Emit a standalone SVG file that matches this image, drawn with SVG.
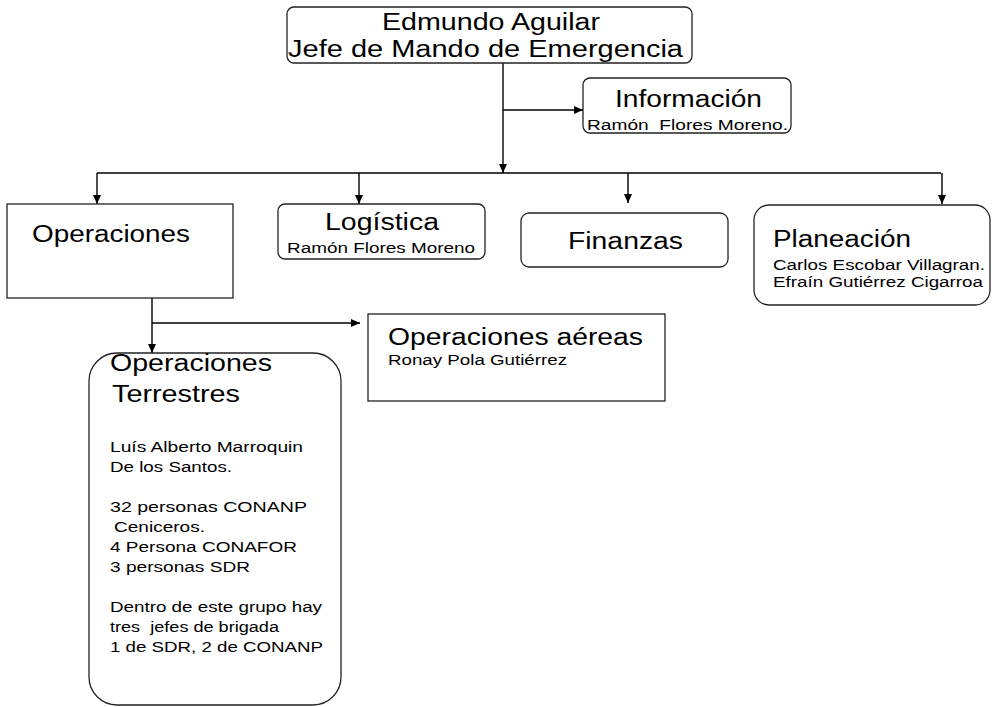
<svg xmlns="http://www.w3.org/2000/svg" width="992" height="707" viewBox="0 0 992 707">
<style>
text{font-family:"Liberation Sans",Arial,sans-serif;fill:#000;white-space:pre}
.big{font-size:23.5px}
.sm{font-size:15.5px}
.box{fill:#fff;stroke:#222;stroke-width:1.3}
.ln{fill:none;stroke:#000;stroke-width:1.4}
</style>
<defs>
<marker id="ah" markerUnits="userSpaceOnUse" markerWidth="10" markerHeight="9" refX="9" refY="4" orient="auto">
<path d="M0,0 L9,4 L0,8 z" fill="#000"/>
</marker>
</defs>
<rect width="992" height="707" fill="#fff"/>
<g id="connectors">
<path class="ln" d="M503,63 V173" marker-end="url(#ah)"/>
<path class="ln" d="M503,110 H583" marker-end="url(#ah)"/>
<path class="ln" d="M97,173 H941"/>
<path class="ln" d="M97,173 V204" marker-end="url(#ah)"/>
<path class="ln" d="M359,173 V204" marker-end="url(#ah)"/>
<path class="ln" d="M628,173 V203" marker-end="url(#ah)"/>
<path class="ln" d="M942,173 V204" marker-end="url(#ah)"/>
<path class="ln" d="M152,298 V353" marker-end="url(#ah)"/>
<path class="ln" d="M152,323 H360" marker-end="url(#ah)"/>
</g>
<g id="jefe">
<rect class="box" x="287" y="7" width="405" height="56" rx="7"/>
<text class="big" x="382" y="30" textLength="218" lengthAdjust="spacingAndGlyphs">Edmundo Aguilar</text>
<text class="big" x="288" y="57" textLength="395" lengthAdjust="spacingAndGlyphs">Jefe de Mando de Emergencia</text>
</g>
<g id="informacion">
<rect class="box" x="583" y="78" width="208" height="55" rx="7"/>
<text class="big" x="615" y="107" textLength="147" lengthAdjust="spacingAndGlyphs">Información</text>
<text class="sm" x="587" y="130" textLength="201" lengthAdjust="spacingAndGlyphs">Ramón  Flores Moreno.</text>
</g>
<g id="operaciones">
<rect class="box" x="7" y="204" width="226" height="94"/>
<text class="big" x="32" y="242" textLength="158" lengthAdjust="spacingAndGlyphs">Operaciones</text>
</g>
<g id="logistica">
<rect class="box" x="278" y="204" width="207" height="55" rx="7"/>
<text class="big" x="325" y="230" textLength="114" lengthAdjust="spacingAndGlyphs">Logística</text>
<text class="sm" x="287" y="253" textLength="188" lengthAdjust="spacingAndGlyphs">Ramón Flores Moreno</text>
</g>
<g id="finanzas">
<rect class="box" x="521" y="213" width="207" height="54" rx="8"/>
<text class="big" x="568" y="249" textLength="115" lengthAdjust="spacingAndGlyphs">Finanzas</text>
</g>
<g id="planeacion">
<rect class="box" x="754" y="205" width="236" height="100" rx="15"/>
<text class="big" x="773" y="247" textLength="138" lengthAdjust="spacingAndGlyphs">Planeación</text>
<text class="sm" x="773" y="270" textLength="212" lengthAdjust="spacingAndGlyphs">Carlos Escobar Villagran.</text>
<text class="sm" x="773" y="287" textLength="210" lengthAdjust="spacingAndGlyphs">Efraín Gutiérrez Cigarroa</text>
</g>
<g id="operaciones-aereas">
<rect class="box" x="368" y="314" width="297" height="87"/>
<text class="big" x="388" y="345" textLength="255" lengthAdjust="spacingAndGlyphs">Operaciones aéreas</text>
<text class="sm" x="388" y="365" textLength="179" lengthAdjust="spacingAndGlyphs">Ronay Pola Gutiérrez</text>
</g>
<g id="operaciones-terrestres">
<rect class="box" x="89" y="353" width="252" height="352" rx="28"/>
<text class="big" x="110" y="371" textLength="162" lengthAdjust="spacingAndGlyphs">Operaciones</text>
<text class="big" x="112" y="402" textLength="128" lengthAdjust="spacingAndGlyphs">Terrestres</text>
<text class="sm" x="110" y="452" textLength="193" lengthAdjust="spacingAndGlyphs">Luís Alberto Marroquin</text>
<text class="sm" x="110" y="472" textLength="122" lengthAdjust="spacingAndGlyphs">De los Santos.</text>
<text class="sm" x="110" y="512" textLength="197" lengthAdjust="spacingAndGlyphs">32 personas CONANP</text>
<text class="sm" x="114" y="532" textLength="91" lengthAdjust="spacingAndGlyphs">Ceniceros.</text>
<text class="sm" x="110" y="552" textLength="187" lengthAdjust="spacingAndGlyphs">4 Persona CONAFOR</text>
<text class="sm" x="110" y="572" textLength="140" lengthAdjust="spacingAndGlyphs">3 personas SDR</text>
<text class="sm" x="110" y="612" textLength="212" lengthAdjust="spacingAndGlyphs">Dentro de este grupo hay</text>
<text class="sm" x="110" y="632" textLength="169" lengthAdjust="spacingAndGlyphs">tres  jefes de brigada</text>
<text class="sm" x="110" y="652" textLength="213" lengthAdjust="spacingAndGlyphs">1 de SDR, 2 de CONANP</text>
</g>
</svg>
